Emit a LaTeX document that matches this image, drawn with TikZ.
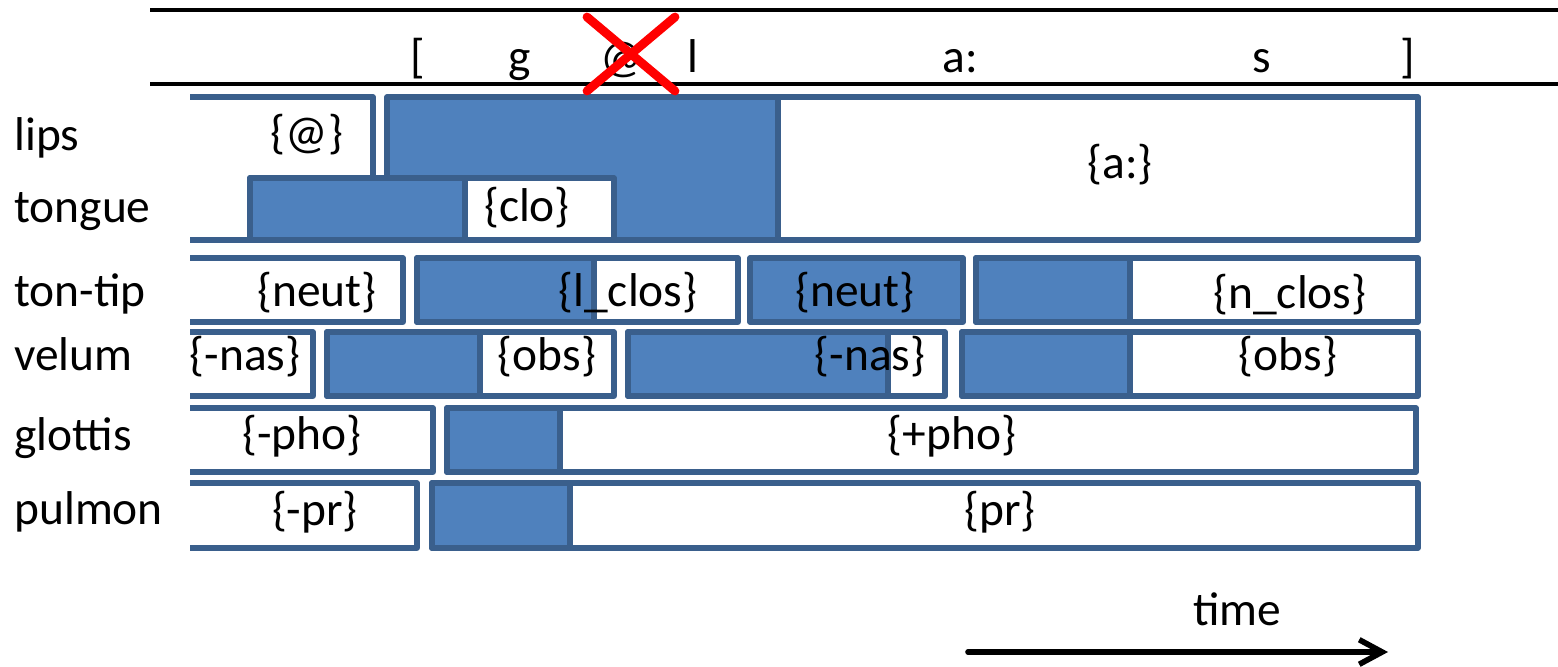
\documentclass[tikz,border=0pt]{standalone}
\usepackage{fontspec}
\setmainfont{Carlito}
\usetikzlibrary{arrows.meta}
\definecolor{gblue}{HTML}{4F81BD}
\definecolor{gedge}{HTML}{3A5F8C}

\begin{document}
\begin{tikzpicture}[x=0.02cm,y=-0.02cm,
  every node/.style={font=\fontsize{27}{32}\selectfont, inner sep=0pt},
  gest/.style={draw=gedge, line width=2.9pt, line join=round, fill=white},
  act/.style={draw=gedge, line width=2.9pt, line join=round, fill=gblue},
  tier/.style={anchor=base west},
  sym/.style={anchor=base}]

\useasboundingbox (0,0) rectangle (1558,666);

% transcription
\draw[line width=2.3pt] (150,10) -- (1558,10);
\draw[line width=2.3pt] (150,84) -- (1558,84);
\node[sym] (lbr) at (418,72) {[};
\node[sym] (g) at (520,72) {g};
\node[sym] (schwa) at (622,72) {@};
\node[sym] (l) at (693,72) {l};
\node[sym] (a) at (960,72) {a:};
\node[sym] (s) at (1262,72) {s};
\node[sym] (rbr) at (1408,72) {]};

% tier names
\node[tier] (lips) at (14,150) {lips};
\node[tier] (tongue) at (14,222) {tongue};
\node[tier] (tontip) at (14,306) {ton-tip};
\node[tier] (velum) at (14,370) {velum};
\node[tier] (glottis) at (14,450) {glottis};
\node[tier] (pulmon) at (14,524) {pulmon};

% lips
\draw[gest] (190,97) -| (373,240) -- (190,240);
\node (lips1) at (307,135) {\{@\}};
\draw[act] (387,97) rectangle (778,240);
\draw[gest] (778,97) rectangle (1418,240);
\node (lips3) at (1120,165) {\{a:\}};

% tongue
\draw[gest] (250,178) rectangle (614,240);
\draw[act] (250,178) rectangle (465,240);
\node (tongue1) at (527,208) {\{clo\}};

% ton-tip
\draw[gest] (190,258) -| (403,322) -- (190,322);
\node (tip1) at (317,293) {\{neut\}};
\draw[gest] (417,258) rectangle (738,322);
\draw[act] (417,258) rectangle (594,322);
\node (tip2) at (628,293) {\{l\_clos\}};
\draw[act] (750,258) rectangle (963,322);
\node (tip3) at (855,293) {\{neut\}};
\draw[gest] (976,258) rectangle (1418,322);
\draw[act] (976,258) rectangle (1130,322);
\node (tip4) at (1290,295) {\{n\_clos\}};

% velum
\draw[gest] (190,332) -| (313,396) -- (190,396);
\node (vel1) at (245,357) {\{-nas\}};
\draw[gest] (327,332) rectangle (614,396);
\draw[act] (327,332) rectangle (480,396);
\node (vel2) at (547,357) {\{obs\}};
\draw[gest] (628,332) rectangle (945,396);
\draw[act] (628,332) rectangle (888,396);
\node (vel3) at (870,357) {\{-nas\}};
\draw[gest] (962,332) rectangle (1418,396);
\draw[act] (962,332) rectangle (1130,396);
\node (vel4) at (1288,357) {\{obs\}};

% glottis
\draw[gest] (190,408) -| (433,472) -- (190,472);
\node (glo1) at (302,436) {\{-pho\}};
\draw[gest] (447,408) rectangle (1416,472);
\draw[act] (447,408) rectangle (560,472);
\node (glo2) at (952,436) {\{+pho\}};

% pulmon
\draw[gest] (190,483) -| (417,548) -- (190,548);
\node (pul1) at (315,512) {\{-pr\}};
\draw[gest] (432,483) rectangle (1418,548);
\draw[act] (432,483) rectangle (570,548);
\node (pul2) at (1000,512) {\{pr\}};

% deleted schwa
\draw[red, line width=5pt, line cap=round] (587,17) -- (675,91);
\draw[red, line width=5pt, line cap=round] (675,17) -- (587,91);

% time axis
\node[sym] (time) at (1237,625) {time};
\coordinate (t0) at (968,652);
\coordinate (t1) at (1388,652);
\draw[line width=3.2pt, line cap=round, -{Straight Barb[length=13pt,width=14pt]}] (t0) -- (t1);
\end{tikzpicture}
\end{document}
